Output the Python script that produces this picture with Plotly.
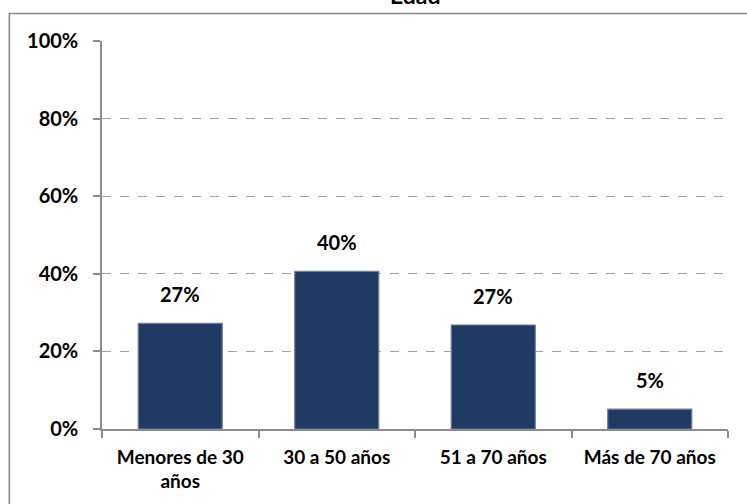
import plotly.graph_objects as go

categories = ["Menores de 30<br>años", "30 a 50 años", "51 a 70 años", "Más de 70 años"]
values = [27.2, 40.6, 26.8, 5.1]
labels = ["27%", "40%", "27%", "5%"]
yticks = [0, 20, 40, 60, 80, 100]
yticklabels = ["0%", "20%", "40%", "60%", "80%", "100%"]
title_text = "Edad"

FONT = "Lato"

fig = go.Figure()
fig.add_trace(go.Bar(
    x=categories, y=values,
    marker=dict(color="#1F3B64", line=dict(color="#6B7F9E", width=1.2)),
    width=0.537,
    hoverinfo="skip",
))

for c, v, t in zip(categories, values, labels):
    fig.add_annotation(x=c, y=v, text=t, showarrow=False, yanchor="bottom",
                       yshift=15, font=dict(family=FONT, size=20, color="black", weight="bold"))

# chart title, partly above the top edge as in the reference
fig.add_annotation(xref="paper", yref="paper", x=0.5, y=1.0, yshift=46,
                   text=title_text, showarrow=False, yanchor="middle",
                   font=dict(family=FONT, size=23, color="black", weight="bold"))

# outer chart frame (right and bottom edges fall outside the picture)
fig.add_shape(type="rect", xref="paper", yref="paper",
              x0=-0.148, y0=-0.25, x1=1.04, y1=1.0709,
              line=dict(color="#888888", width=1.6), fillcolor="rgba(0,0,0,0)", layer="above")

fig.update_layout(
    width=747, height=504,
    margin=dict(l=102, r=19, t=41, b=75),
    paper_bgcolor="white", plot_bgcolor="white",
    showlegend=False,
    xaxis=dict(
        showline=True, linecolor="#8C8C8C", linewidth=1.5,
        ticks="outside", tickson="boundaries", ticklen=7, tickcolor="#8C8C8C", tickwidth=1.5,
        ticklabelstandoff=10,
        tickfont=dict(family=FONT, size=19, color="black", weight="bold"),
        showgrid=False,
    ),
    yaxis=dict(
        range=[0, 100], tickvals=yticks, ticktext=yticklabels,
        showline=True, linecolor="#8C8C8C", linewidth=1.5,
        ticks="outside", ticklen=7, tickcolor="#8C8C8C", tickwidth=1.5,
        ticklabelstandoff=11,
        tickfont=dict(family=FONT, size=20, color="black", weight="bold"),
        showgrid=True, gridcolor="#A0A0A0", gridwidth=1, griddash="dash",
        zeroline=False,
    ),
)

fig.write_html("out.html", config={"displayModeBar": False},
               post_script="document.body.style.margin='0';document.body.style.overflow='hidden';")
